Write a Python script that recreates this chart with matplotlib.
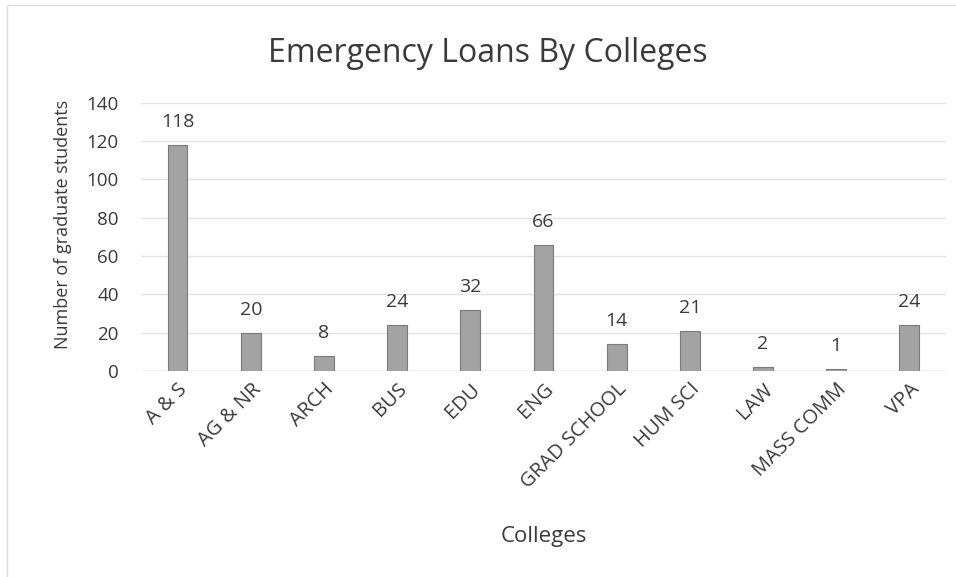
import matplotlib.pyplot as plt
from matplotlib.lines import Line2D

colleges = ['A & S', 'AG & NR', 'ARCH', 'BUS', 'EDU', 'ENG', 'GRAD SCHOOL',
            'HUM SCI', 'LAW', 'MASS COMM', 'VPA']
loans = [118, 20, 8, 24, 32, 66, 14, 21, 2, 1, 24]
y_ticks = [0, 20, 40, 60, 80, 100, 120, 140]

plt.rcParams['font.family'] = ['Open Sans', 'DejaVu Sans']
text_color = '#3a3a3a'

fig = plt.figure(figsize=(9.56, 5.77), dpi=100)
# faint chart-area border (left and top edges)
fig.lines.append(Line2D([0.0075, 0.0075, 1.0], [0.0, 0.991, 0.991], transform=fig.transFigure,
                        color='#dcdcdc', linewidth=1))

ax = fig.add_axes([0.1475, 0.357, 0.842, 0.465])
x = range(len(colleges))
ax.bar(x, loans, width=0.27, color='#a3a3a3', edgecolor='#7a7a7a', linewidth=0.8, zorder=3)

for xi, v in zip(x, loans):
    ax.annotate(str(v), (xi, v), xytext=(0, 10), textcoords='offset points',
                ha='center', va='bottom', fontsize=14, color=text_color)

ax.set_xlim(-0.5, len(colleges) - 0.5)
ax.set_ylim(0, 140)
ax.set_yticks(y_ticks)
ax.yaxis.grid(True, color='#e3e3e3', linewidth=1, zorder=0)
ax.set_axisbelow(True)
for s in ax.spines.values():
    s.set_visible(False)
ax.axhline(0, color='#d9d9d9', linewidth=1, zorder=2)
ax.tick_params(axis='both', length=0, colors=text_color)
ax.tick_params(axis='y', labelsize=13.5, pad=16)
ax.tick_params(axis='x', labelsize=14.5, pad=6)
ax.set_xticks(list(x))
ax.set_xticklabels(colleges, rotation=45, ha='right', rotation_mode='anchor')

ax.set_ylabel('Number of graduate students', fontsize=13, color=text_color)
ax.yaxis.set_label_coords(-0.086, 0.545)
ax.set_xlabel('Colleges', fontsize=16, color=text_color, labelpad=24)
fig.text(0.51, 0.908, 'Emergency Loans By Colleges', ha='center', va='center',
         fontsize=23, color=text_color)

fig.savefig('out.png', dpi=100)
